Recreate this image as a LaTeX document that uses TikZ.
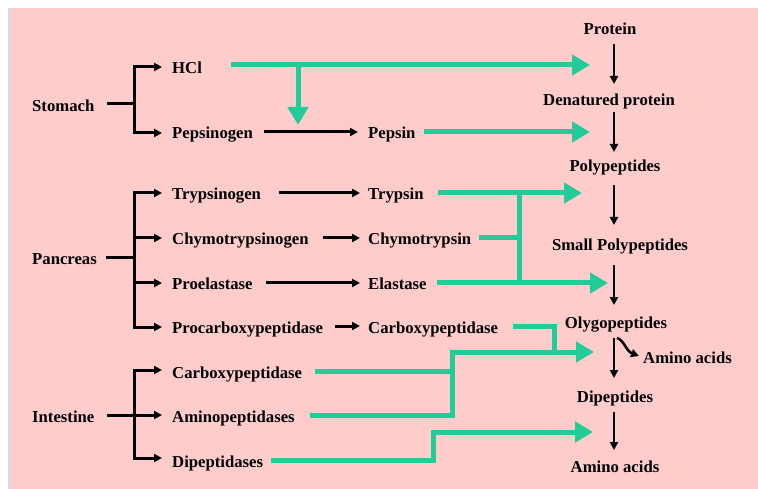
\documentclass[tikz,border=0pt]{standalone}
\usepackage{fontspec}
\setmainfont{Liberation Serif}
\usetikzlibrary{arrows.meta}
\definecolor{pinkbg}{RGB}{255,204,204}
\definecolor{grn}{RGB}{34,204,153}
\definecolor{edgegray}{RGB}{218,218,218}
\begin{document}
\begin{tikzpicture}[x=1pt,y=-1pt,
  lbl/.style={inner sep=0pt,font=\fontsize{16.7}{20}\selectfont\bfseries},
  lw/.style={lbl,anchor=base west},
  lc/.style={lbl,anchor=base},
  blk/.style={draw=black,line width=3pt,line join=miter},
  barr/.style={blk,-{Triangle[length=8pt,width=8pt]}},
  varr/.style={draw=black,line width=2.5pt,-{Triangle[length=8pt,width=8pt]}},
  gline/.style={draw=grn,line width=5pt,line join=miter},
  garr/.style={gline,-{Triangle[length=18pt,width=20pt]}}]
\useasboundingbox (0,0) rectangle (758,489);
\fill[edgegray] (8,8) rectangle (11,489);
\fill[pinkbg] (11,8) rectangle (758,489);

% organs
\node[lw] (stomach) at (32,112) {Stomach};
\node[lw] (pancreas) at (32,265) {Pancreas};
\node[lw] (intestine) at (32,422) {Intestine};

% first column
\node[lw] (hcl) at (172,74) {HCl};
\node[lw] (pepsinogen) at (172,139) {Pepsinogen};
\node[lw] (trypsinogen) at (172,200) {Trypsinogen};
\node[lw] (chymogen) at (172,245) {Chymotrypsinogen};
\node[lw] (proel) at (172,290) {Proelastase};
\node[lw] (procarb) at (172,334) {Procarboxypeptidase};
\node[lw] (carbint) at (172,378) {Carboxypeptidase};
\node[lw] (aminop) at (172,422) {Aminopeptidases};
\node[lw] (dipep) at (172,467) {Dipeptidases};

% second column
\node[lw] (pepsin) at (368,139) {Pepsin};
\node[lw] (trypsin) at (368,200) {Trypsin};
\node[lw] (chymo) at (368,245) {Chymotrypsin};
\node[lw] (elast) at (368,290) {Elastase};
\node[lw] (carbpan) at (368,334) {Carboxypeptidase};

% right column
\node[lc] (protein) at (610,35) {Protein};
\node[lc] (denat) at (609,106) {Denatured protein};
\node[lc] (poly) at (615,172) {Polypeptides};
\node[lc] (small) at (620,251) {Small Polypeptides};
\node[lc] (olygo) at (616,328) {Olygopeptides};
\node[lw] (aaside) at (643,363) {Amino acids};
\node[lc] (dipeps) at (615,402) {Dipeptides};
\node[lc] (aa) at (615,472) {Amino acids};

% brackets
\coordinate (sb) at (134,104);
\coordinate (pb) at (134,258);
\coordinate (ib) at (134,415);
\draw[blk] ([xshift=12pt,yshift=8pt]stomach.base east) -- (sb);
\draw[barr] (sb) |- ([xshift=-10pt,yshift=7pt]hcl.base west);
\draw[barr] (sb) |- ([xshift=-10pt,yshift=6pt]pepsinogen.base west);
\draw[blk] ([xshift=9pt,yshift=7pt]pancreas.base east) -- (pb);
\draw[barr] (pb) |- ([xshift=-10pt,yshift=7pt]trypsinogen.base west);
\draw[barr] (pb) |- ([xshift=-10pt,yshift=7pt]chymogen.base west);
\draw[barr] (pb) |- ([xshift=-10pt,yshift=7pt]proel.base west);
\draw[barr] (pb) |- ([xshift=-10pt,yshift=7pt]procarb.base west);
\draw[blk] ([xshift=12pt,yshift=7pt]intestine.base east) -- (ib);
\draw[barr] (ib) |- ([xshift=-10pt,yshift=8pt]carbint.base west);
\draw[barr] (ib) -- ([xshift=-10pt,yshift=7pt]aminop.base west);
\draw[barr] (ib) |- ([xshift=-10pt,yshift=9pt]dipep.base west);

% activation arrows
\draw[barr] ([xshift=11pt,yshift=7pt]pepsinogen.base east) -- ([xshift=-10pt,yshift=7pt]pepsin.base west);
\draw[barr] ([xshift=18pt,yshift=7pt]trypsinogen.base east) -- ([xshift=-8pt,yshift=7pt]trypsin.base west);
\draw[barr] ([xshift=14pt,yshift=7pt]chymogen.base east) -- ([xshift=-8pt,yshift=7pt]chymo.base west);
\draw[barr] ([xshift=13pt,yshift=7pt]proel.base east) -- ([xshift=-8pt,yshift=7pt]elast.base west);
\draw[barr] ([xshift=12pt,yshift=8pt]procarb.base east) -- ([xshift=-8pt,yshift=8pt]carbpan.base west);

% right column arrows
\coordinate (ax) at (614,0);
\draw[varr,shorten <=9pt,shorten >=22pt] (protein.base -| ax) -- (denat.base -| ax);
\draw[varr,shorten <=6pt,shorten >=20pt] (denat.base -| ax) -- (poly.base -| ax);
\draw[varr,shorten <=13pt,shorten >=26pt] (poly.base -| ax) -- (small.base -| ax);
\draw[varr,shorten <=14pt,shorten >=23pt] (small.base -| ax) -- (olygo.base -| ax);
\draw[varr,shorten <=10pt,shorten >=24pt] (olygo.base -| ax) -- (dipeps.base -| ax);
\draw[varr,shorten <=10pt,shorten >=22pt] (dipeps.base -| ax) -- (aa.base -| ax);
\coordinate (cs) at (617,338);
\draw[draw=black,line width=2.5pt,-{Triangle[length=8pt,width=8pt]}] (cs) .. controls (624,340) and (626,351) .. ([xshift=-4pt,yshift=7pt]aaside.base west);

% green enzyme arrows
\coordinate (t1) at (590,65);
\coordinate (hj) at (298,65);
\coordinate (hjt) at (298,125);
\coordinate (t2) at (590,132);
\coordinate (t3) at (582,193);
\coordinate (j1) at (519,193);
\coordinate (j2) at (519,283);
\coordinate (t4) at (608,283);
\coordinate (cj) at (554,351);
\coordinate (t5) at (594,352);
\coordinate (ij) at (452,352);
\coordinate (dj) at (433,432);
\coordinate (t6) at (593,432);

\draw[garr] ([xshift=29pt,yshift=9pt]hcl.base east) -- (t1);
\draw[garr] (hj) -- (hjt);
\draw[garr] ([xshift=8pt,yshift=7pt]pepsin.base east) -- (t2);
\draw[garr] ([xshift=14pt,yshift=7pt]trypsin.base east) -- (t3);
\draw[gline] ([xshift=8pt,yshift=7pt]chymo.base east) -- ([yshift=7pt]chymo.base east -| j1);
\draw[gline] ([yshift=-2.5pt]j1) -- ([yshift=2.5pt]j2);
\draw[garr] ([xshift=10pt,yshift=7pt]elast.base east) -- (t4);
\draw[gline] ([xshift=15pt,yshift=8pt]carbpan.base east) -| (cj);
\draw[gline] ([xshift=13pt,yshift=7pt]carbint.base east) -- ([yshift=7pt]carbint.base east -| ij);
\draw[garr] ([xshift=15pt,yshift=7pt]aminop.base east) -| (ij) -- (t5);
\draw[garr] ([xshift=8pt,yshift=7pt]dipep.base east) -| (dj) -- (t6);
\end{tikzpicture}
\end{document}
